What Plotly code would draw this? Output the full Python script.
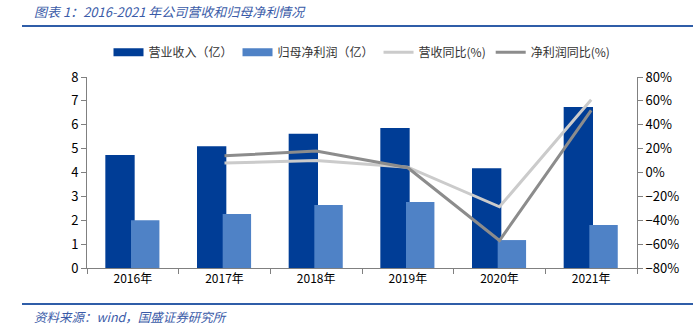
import plotly.graph_objects as go

years = ["2016年", "2017年", "2018年", "2019年", "2020年", "2021年"]
revenue = [4.73, 5.10, 5.62, 5.86, 4.18, 6.74]
profit = [2.00, 2.26, 2.64, 2.76, 1.17, 1.80]
rev_yoy = [None, 0.08, 0.10, 0.045, -0.287, 0.61]
profit_yoy = [None, 0.14, 0.18, 0.04, -0.57, 0.52]

c_rev, c_pro = "#003D96", "#4F82C6"

fig = go.Figure()
fig.add_trace(go.Bar(x=years, y=revenue, name="营业收入（亿）", marker=dict(color=c_rev, line=dict(width=0)),
                     width=0.32, offset=-0.30, showlegend=False, legendgroup="rev"))
fig.add_trace(go.Bar(x=years, y=profit, name="归母净利润（亿）", marker=dict(color=c_pro, line=dict(width=0)),
                     width=0.31, offset=-0.02, showlegend=False, legendgroup="pro"))
# legend swatches (wide bars like the reference)
fig.add_trace(go.Scatter(x=[None], y=[None], name="营业收入（亿）", mode="lines", legendgroup="rev",
                         line=dict(color=c_rev, width=8)))
fig.add_trace(go.Scatter(x=[None], y=[None], name="归母净利润（亿）", mode="lines", legendgroup="pro",
                         line=dict(color=c_pro, width=8)))
fig.add_trace(go.Scatter(x=years, y=rev_yoy, name="营收同比(%)", mode="lines", yaxis="y2",
                         line=dict(color="#CBCBCB", width=3)))
fig.add_trace(go.Scatter(x=years, y=profit_yoy, name="净利润同比(%)", mode="lines", yaxis="y2",
                         line=dict(color="#8C8C8C", width=3)))

font_cjk = "Noto Sans CJK SC, sans-serif"
fig.update_layout(
    width=693, height=331,
    margin=dict(l=87, r=56, t=77, b=63),
    paper_bgcolor="white", plot_bgcolor="white",
    font=dict(family=font_cjk, size=12, color="#000000"),
    barmode="overlay",
    showlegend=True,
    legend=dict(orientation="h", x=0.5, xanchor="center", y=1.13, yanchor="middle",
                font=dict(size=12, color="#333333"), itemwidth=30, tracegroupgap=0),
    xaxis=dict(type="category", showline=True, linecolor="#808080", linewidth=1,
               ticks="outside", tickson="boundaries", ticklen=5, tickcolor="#808080",
               showgrid=False, tickfont=dict(size=12)),
    yaxis=dict(range=[0, 8], dtick=1, showline=True, linecolor="#808080", linewidth=1,
               ticks="outside", ticklen=5, tickcolor="#808080", showgrid=False, zeroline=False,
               tickfont=dict(size=13)),
    yaxis2=dict(range=[-0.8, 0.8], dtick=0.2, tickformat=".0%", overlaying="y", side="right",
                showline=True, linecolor="#808080", linewidth=1, ticks="outside", ticklen=5,
                tickcolor="#808080", showgrid=False, zeroline=False, tickfont=dict(size=13)),
)

fig.add_annotation(text="<i>图表 1：2016-2021 年公司营收和归母净利情况</i>", xref="paper", yref="paper",
                   x=-0.1, xanchor="left", y=(331 - 12 - 63) / 191, yanchor="middle", showarrow=False,
                   font=dict(size=13, color="#3A5BA8", family=font_cjk))
fig.add_annotation(text="<i>资料来源：wind，国盛证券研究所</i>", xref="paper", yref="paper",
                   x=-0.1, xanchor="left", y=(331 - 316 - 63) / 191, yanchor="middle", showarrow=False,
                   font=dict(size=12.5, color="#3A5BA8", family=font_cjk))
fig.add_shape(type="line", xref="paper", yref="paper", x0=(22 - 87) / 550, x1=(693 - 87) / 550,
              y0=(331 - 26 - 63) / 191, y1=(331 - 26 - 63) / 191, line=dict(color="#2F5DA8", width=2))
fig.add_shape(type="line", xref="paper", yref="paper", x0=(22 - 87) / 550, x1=(693 - 87) / 550,
              y0=(331 - 304 - 63) / 191, y1=(331 - 304 - 63) / 191, line=dict(color="#2F5DA8", width=2))

fig.write_html("out.html")
